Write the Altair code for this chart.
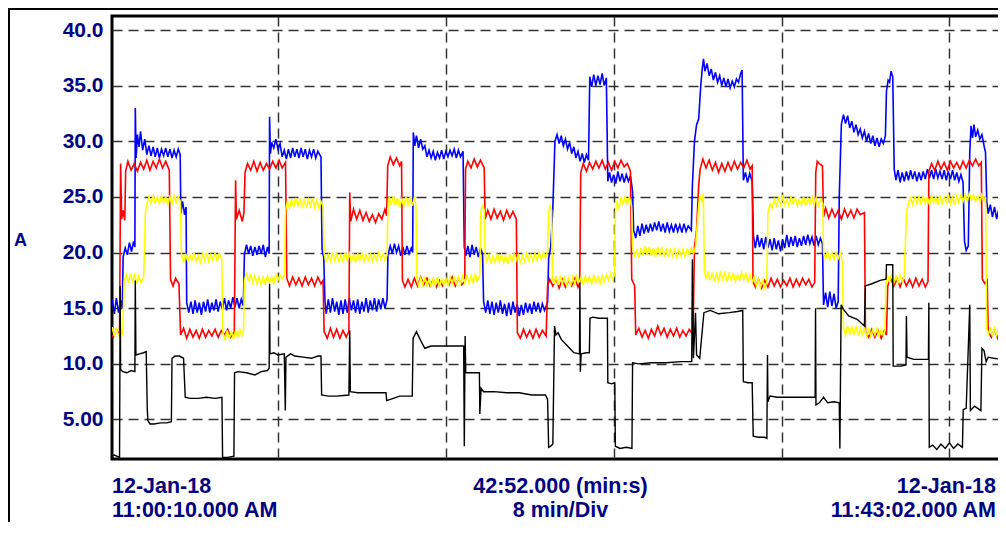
import altair as alt
import pandas as pd

# ---- data: (minutes since 11:00:10, amps) ----
RED = [(0.00,12.8),(0.15,12.4),(0.30,13.1),(0.45,12.5),(0.50,28.0),(0.55,23.0),(0.62,23.8),(0.70,22.9),
(0.74,27.3),(0.85,28.2),(1.00,27.4),(1.15,28.0),(1.30,27.3),(1.45,28.1),(1.60,27.5),(1.75,28.3),(1.90,27.4),
(2.05,28.2),(2.20,27.6),(2.35,28.4),(2.50,27.6),(2.65,28.2),(2.82,27.4),(2.88,17.6),(3.00,17.0),(3.12,17.7),
(3.28,17.2),(3.36,12.6),(3.50,13.2),(3.65,12.3),(3.80,13.1),(3.95,12.4),(4.10,13.0),(4.25,12.3),(4.40,13.1),
(4.55,12.4),(4.70,13.0),(4.85,12.5),(5.00,13.1),(5.15,12.4),(5.30,13.0),(5.45,12.6),(5.60,13.1),(5.75,12.4),
(5.92,12.9),(5.98,26.5),(6.02,23.0),(6.15,23.8),(6.30,22.8),(6.38,23.6),(6.43,27.2),(6.55,28.0),(6.70,27.4),
(6.85,28.2),(7.00,27.3),(7.15,28.1),(7.30,27.4),(7.45,28.0),(7.60,27.5),(7.75,28.2),(7.90,27.6),(8.05,28.3),
(8.20,27.6),(8.36,28.1),(8.42,17.7),(8.55,17.0),(8.70,17.8),(8.85,17.1),(9.00,17.7),(9.15,17.0),(9.30,17.8),
(9.45,17.1),(9.60,17.7),(9.75,17.0),(9.90,17.8),(10.05,17.2),(10.15,17.5),(10.20,12.9),(10.35,12.3),
(10.50,13.2),(10.65,12.4),(10.80,13.1),(10.95,12.3),(11.10,13.0),(11.25,12.4),(11.38,12.9),(11.42,25.4),
(11.47,22.8),(11.60,23.9),(11.75,23.0),(11.90,23.8),(12.05,22.9),(12.20,23.6),(12.35,22.8),(12.50,23.4),
(12.65,22.7),(12.80,23.5),(12.95,23.0),(13.10,23.9),(13.18,23.3),(13.23,27.8),(13.35,28.6),(13.50,27.9),
(13.65,28.5),(13.80,27.8),(13.89,28.2),(13.93,17.5),(14.05,16.9),(14.20,17.6),(14.35,16.9),(14.50,17.7),
(14.65,17.0),(14.80,17.8),(14.95,17.1),(15.10,17.7),(15.25,17.0),(15.40,17.6),(15.55,16.9),(15.70,17.5),
(15.85,17.0),(16.00,17.6),(16.15,17.1),(16.30,17.8),(16.45,17.0),(16.60,17.7),(16.75,17.1),(16.90,17.4),
(16.94,27.5),(17.05,28.2),(17.20,27.6),(17.35,28.4),(17.50,27.7),(17.65,28.3),(17.83,27.6),(17.87,23.0),
(18.00,23.8),(18.15,23.0),(18.30,23.9),(18.45,23.1),(18.60,23.7),(18.75,22.9),(18.90,23.8),(19.05,23.1),
(19.20,23.7),(19.36,23.0),(19.41,12.8),(19.55,12.3),(19.70,13.1),(19.85,12.4),(20.00,13.0),(20.15,12.3),
(20.30,13.1),(20.45,12.4),(20.60,13.0),(20.78,12.5),(20.85,17.0),(20.95,17.6),(21.10,17.0),(21.25,17.7),
(21.40,16.8),(21.55,17.6),(21.70,16.9),(21.85,17.5),(22.00,17.0),(22.15,17.7),(22.30,16.9),(22.38,17.3),
(22.43,27.2),(22.55,28.0),(22.70,27.3),(22.85,28.1),(23.00,27.5),(23.15,28.2),(23.30,27.6),(23.45,28.3),
(23.60,27.5),(23.75,28.1),(23.90,27.4),(24.05,28.2),(24.20,27.6),(24.35,28.3),(24.50,27.7),(24.65,28.0),
(24.80,27.3),(24.86,17.6),(25.00,17.0),(25.05,12.6),(25.20,13.2),(25.35,12.4),(25.50,13.0),(25.65,12.3),
(25.80,13.1),(25.95,12.5),(26.10,13.4),(26.25,12.6),(26.40,13.2),(26.55,12.4),(26.70,13.1),(26.85,12.5),
(27.00,13.2),(27.15,12.4),(27.30,13.0),(27.45,12.5),(27.60,13.1),(27.78,12.6),(27.85,20.5),(27.95,22.0),
(28.05,26.0),(28.12,27.5),(28.25,28.4),(28.40,27.6),(28.55,28.3),(28.70,27.4),(28.85,28.1),(29.00,27.2),
(29.15,28.0),(29.30,27.3),(29.45,28.1),(29.60,27.4),(29.75,28.2),(29.90,27.5),(30.05,28.1),(30.20,27.6),
(30.35,28.3),(30.50,27.5),(30.60,27.8),(30.64,17.4),(30.75,16.9),(30.90,17.6),(31.05,16.8),(31.20,17.5),
(31.35,16.9),(31.50,17.7),(31.65,17.0),(31.80,17.6),(31.95,16.9),(32.10,17.5),(32.25,17.0),(32.40,17.7),
(32.55,16.9),(32.70,17.6),(32.85,17.0),(33.00,17.7),(33.15,17.1),(33.30,17.6),(33.45,16.9),(33.58,17.3),
(33.63,27.2),(33.70,28.2),(33.80,28.0),(33.95,27.8),(34.00,23.2),(34.10,24.0),(34.25,23.1),(34.40,23.9),
(34.55,23.2),(34.70,23.8),(34.85,23.0),(35.00,23.9),(35.15,23.2),(35.30,23.8),(35.45,23.1),(35.60,23.9),
(35.75,23.4),(35.95,23.6),(36.00,12.9),(36.15,12.4),(36.30,13.1),(36.45,12.4),(36.60,13.0),(36.75,12.3),
(36.90,13.0),(37.00,12.6),(37.06,17.0),(37.20,17.7),(37.35,17.0),(37.50,17.6),(37.65,16.9),(37.80,17.7),
(37.95,17.0),(38.10,17.6),(38.25,16.9),(38.40,17.7),(38.55,17.0),(38.70,17.6),(38.85,16.9),(38.98,17.4),
(39.02,27.3),(39.15,28.0),(39.30,27.4),(39.45,28.2),(39.60,27.5),(39.75,28.1),(39.90,27.4),(40.05,28.2),
(40.20,27.6),(40.35,28.1),(40.50,27.5),(40.65,28.2),(40.80,27.6),(40.95,28.3),(41.10,27.8),(41.25,28.4),
(41.40,27.8),(41.52,28.1),(41.57,17.6),(41.70,17.2),(41.80,17.5),(41.85,12.9),(42.00,12.4),(42.15,13.1),
(42.30,12.3),(42.45,13.0),(42.60,12.5),(42.75,13.1),(42.87,12.7)]

BLUE = [(0.00,15.0),(0.10,15.8),(0.20,14.5),(0.30,15.9),(0.40,14.6),(0.50,15.7),(0.58,15.0),(0.62,19.6),
(0.72,20.4),(0.82,19.8),(0.92,20.9),(1.02,20.1),(1.12,21.0),(1.18,20.5),(1.20,33.0),(1.24,28.5),(1.30,30.6),
(1.38,29.5),(1.45,30.9),(1.55,29.2),(1.65,30.2),(1.75,28.8),(1.85,29.6),(1.95,28.7),(2.05,29.5),(2.15,28.6),
(2.25,29.4),(2.35,28.5),(2.45,29.3),(2.55,28.7),(2.65,29.4),(2.75,28.6),(2.85,29.3),(2.95,28.5),(3.05,29.2),
(3.15,28.6),(3.25,29.3),(3.34,28.8),(3.37,23.5),(3.45,24.6),(3.55,23.4),(3.62,24.1),(3.65,15.5),(3.75,14.6),
(3.85,15.6),(3.95,14.5),(4.05,15.7),(4.15,14.6),(4.25,15.5),(4.35,14.4),(4.45,15.6),(4.55,14.7),(4.65,15.8),
(4.75,14.6),(4.85,15.5),(4.95,14.8),(5.05,15.8),(5.15,14.7),(5.25,15.6),(5.35,14.9),(5.45,15.9),(5.55,14.8),
(5.65,15.7),(5.75,15.0),(5.85,16.0),(5.95,15.1),(6.05,15.9),(6.15,15.0),(6.25,15.8),(6.35,15.2),(6.40,19.8),
(6.50,20.7),(6.60,19.9),(6.70,20.6),(6.80,19.7),(6.90,20.5),(7.00,19.8),(7.10,20.6),(7.20,19.9),(7.30,20.7),
(7.40,19.6),(7.50,20.5),(7.58,19.9),(7.60,32.2),(7.64,28.9),(7.70,29.9),(7.80,29.4),(7.90,30.2),(8.00,29.3),
(8.10,29.8),(8.20,28.6),(8.30,29.2),(8.40,28.4),(8.50,29.3),(8.60,28.5),(8.70,29.4),(8.80,28.6),(8.90,29.3),
(9.00,28.5),(9.10,29.4),(9.20,28.6),(9.30,29.3),(9.40,28.4),(9.50,29.2),(9.60,28.6),(9.70,29.3),(9.80,28.5),
(9.90,29.1),(10.05,28.6),(10.10,20.3),(10.18,19.6),(10.24,15.6),(10.30,14.5),(10.40,15.8),(10.50,14.6),
(10.60,15.9),(10.70,14.7),(10.80,15.6),(10.90,14.4),(11.00,15.7),(11.10,14.5),(11.20,15.8),(11.30,14.6),
(11.40,15.9),(11.50,14.8),(11.60,15.7),(11.70,14.6),(11.80,15.8),(11.90,14.5),(12.00,15.6),(12.10,14.7),
(12.20,15.9),(12.30,14.6),(12.40,15.7),(12.50,14.8),(12.60,15.9),(12.70,14.7),(12.80,15.8),(12.90,14.9),
(13.00,15.9),(13.10,15.0),(13.20,15.8),(13.24,19.8),(13.35,20.6),(13.45,19.9),(13.55,20.8),(13.65,20.0),
(13.75,20.6),(13.85,19.7),(13.95,20.5),(14.05,19.8),(14.15,20.6),(14.25,19.9),(14.35,20.4),(14.42,20.0),
(14.45,30.8),(14.52,29.6),(14.60,30.5),(14.70,29.4),(14.80,30.2),(14.90,29.3),(15.00,29.6),(15.10,28.6),
(15.20,29.2),(15.30,28.5),(15.40,29.1),(15.50,28.3),(15.60,29.0),(15.70,28.5),(15.80,29.2),(15.90,28.4),
(16.00,29.1),(16.10,28.6),(16.20,29.2),(16.30,28.7),(16.40,29.3),(16.50,28.5),(16.60,29.2),(16.70,28.6),
(16.82,29.1),(16.88,20.5),(16.95,19.7),(17.05,20.6),(17.15,19.6),(17.25,20.7),(17.35,19.8),(17.45,20.5),
(17.55,19.6),(17.65,20.4),(17.75,19.9),(17.80,15.6),(17.90,14.6),(18.00,15.7),(18.10,14.5),(18.20,15.6),
(18.30,14.4),(18.40,15.5),(18.50,14.6),(18.60,15.7),(18.70,14.5),(18.80,15.4),(18.90,14.3),(19.00,15.5),
(19.10,14.4),(19.20,15.6),(19.30,14.6),(19.40,15.4),(19.50,14.3),(19.60,15.3),(19.70,14.4),(19.80,15.5),
(19.90,14.6),(20.00,15.4),(20.10,14.5),(20.20,15.6),(20.30,14.7),(20.40,15.5),(20.50,14.6),(20.60,15.4),
(20.70,14.8),(20.85,15.5),(20.90,19.5),(21.00,20.5),(21.10,24.0),(21.20,30.0),(21.30,30.6),(21.40,29.8),
(21.50,30.5),(21.60,29.6),(21.70,30.2),(21.80,29.3),(21.90,29.9),(22.00,28.9),(22.10,29.5),(22.20,28.5),
(22.30,29.1),(22.40,28.2),(22.50,28.9),(22.60,28.1),(22.70,28.8),(22.80,28.3),(22.86,35.8),(22.95,34.9),
(23.05,36.0),(23.15,35.0),(23.25,35.9),(23.35,35.1),(23.45,36.1),(23.55,35.0),(23.65,35.7),(23.72,26.4),
(23.80,27.2),(23.90,26.3),(24.00,27.0),(24.10,26.2),(24.20,27.3),(24.30,26.4),(24.40,27.1),(24.50,26.3),
(24.60,27.0),(24.70,26.4),(24.80,26.9),(24.90,25.5),(24.95,22.0),(25.05,21.3),(25.15,22.4),(25.25,21.5),
(25.35,22.6),(25.45,21.7),(25.55,22.5),(25.65,21.8),(25.75,22.6),(25.85,21.9),(25.95,22.7),(26.05,22.0),
(26.15,22.8),(26.25,21.9),(26.35,22.6),(26.45,21.8),(26.55,22.7),(26.65,21.9),(26.75,22.5),(26.85,21.8),
(26.95,22.6),(27.05,21.9),(27.15,22.5),(27.25,21.8),(27.35,22.6),(27.45,21.9),(27.55,22.4),(27.70,22.0),
(27.75,26.0),(27.85,30.0),(27.95,31.5),(28.05,32.0),(28.15,35.0),(28.22,36.5),(28.28,37.4),(28.35,36.3),
(28.45,37.0),(28.55,35.9),(28.65,36.5),(28.75,35.5),(28.85,36.2),(28.95,35.3),(29.05,35.9),(29.15,35.0),
(29.25,35.7),(29.35,34.9),(29.45,35.6),(29.55,34.8),(29.65,35.4),(29.75,34.9),(29.85,35.6),(29.95,35.3),
(30.05,36.1),(30.12,36.4),(30.18,26.5),(30.28,27.2),(30.38,26.3),(30.48,27.1),(30.60,26.4),(30.66,21.5),
(30.75,20.4),(30.85,21.6),(30.95,20.5),(31.05,21.3),(31.15,20.3),(31.25,21.4),(31.35,20.4),(31.45,21.2),
(31.55,20.2),(31.65,21.3),(31.75,20.3),(31.85,21.1),(31.95,20.1),(32.05,21.2),(32.15,20.4),(32.25,21.6),
(32.35,20.5),(32.45,21.4),(32.55,20.6),(32.65,21.5),(32.75,20.5),(32.85,21.3),(32.95,20.6),(33.05,21.5),
(33.15,20.7),(33.25,21.6),(33.35,20.8),(33.45,21.4),(33.55,20.6),(33.65,21.5),(33.75,20.7),(33.85,21.3),
(33.95,20.8),(34.00,15.3),(34.10,16.4),(34.20,15.1),(34.30,16.5),(34.40,15.2),(34.50,16.3),(34.60,15.0),
(34.70,15.6),(34.75,25.0),(34.85,31.5),(34.95,32.4),(35.05,31.6),(35.15,32.3),(35.25,31.2),(35.35,31.8),
(35.45,30.8),(35.55,31.5),(35.65,30.6),(35.75,31.1),(35.85,30.3),(35.95,30.9),(36.05,30.0),(36.15,30.7),
(36.25,29.8),(36.35,30.5),(36.45,29.6),(36.55,30.3),(36.65,29.5),(36.75,30.2),(36.85,29.8),(36.95,30.5),
(37.00,34.5),(37.08,35.5),(37.15,35.3),(37.22,36.3),(37.30,35.8),(37.37,27.5),(37.45,26.5),(37.55,27.4),
(37.65,26.3),(37.75,27.2),(37.85,26.4),(37.95,27.3),(38.05,26.5),(38.15,27.4),(38.25,26.6),(38.35,27.3),
(38.45,26.4),(38.55,27.2),(38.65,26.5),(38.75,27.3),(38.85,26.6),(38.95,27.5),(39.05,26.7),(39.15,27.4),
(39.25,26.6),(39.35,27.5),(39.45,26.7),(39.55,27.3),(39.65,26.6),(39.75,27.4),(39.85,26.5),(39.95,27.3),
(40.05,26.6),(40.15,27.4),(40.25,26.5),(40.35,27.2),(40.45,26.4),(40.55,27.0),(40.65,26.3),(40.72,21.0),
(40.80,20.2),(40.90,20.6),(40.97,29.0),(41.03,31.4),(41.10,30.3),(41.17,31.5),(41.25,30.4),(41.35,31.0),
(41.45,30.2),(41.55,30.6),(41.65,29.6),(41.72,29.0),(41.78,24.6),(41.85,23.5),(41.95,24.3),(42.05,23.2),
(42.15,24.1),(42.25,23.0),(42.35,23.9),(42.45,23.1),(42.55,23.8),(42.65,22.9),(42.75,23.6),(42.87,23.1)]

YELLOW = [(0.00,12.6),(0.10,13.3),(0.20,12.5),(0.30,13.2),(0.40,12.4),(0.50,13.1),(0.60,12.6),(0.67,17.4),
(0.77,18.0),(0.87,17.3),(0.97,18.1),(1.07,17.4),(1.17,18.0),(1.27,17.2),(1.37,17.9),(1.47,17.3),(1.60,17.8),
(1.68,23.5),(1.75,24.4),(1.85,25.0),(1.95,24.4),(2.05,25.1),(2.15,24.5),(2.25,25.0),(2.35,24.4),(2.45,25.1),
(2.55,24.5),(2.65,25.0),(2.75,24.3),(2.85,25.0),(2.95,24.4),(3.05,25.1),(3.15,24.5),(3.25,25.0),(3.35,24.6),
(3.40,19.8),(3.50,19.1),(3.60,19.9),(3.70,19.2),(3.80,19.8),(3.90,19.3),(4.00,20.0),(4.10,19.2),(4.20,19.7),
(4.30,19.1),(4.40,19.9),(4.50,19.3),(4.60,20.0),(4.70,19.2),(4.80,19.8),(4.90,19.3),(5.00,20.0),(5.10,19.2),
(5.20,19.9),(5.32,19.4),(5.38,12.8),(5.48,12.2),(5.58,13.0),(5.68,12.3),(5.78,12.9),(5.88,12.2),(5.98,13.0),
(6.08,12.4),(6.18,13.1),(6.28,12.5),(6.36,13.0),(6.40,17.5),(6.50,18.2),(6.60,17.4),(6.70,18.1),(6.80,17.3),
(6.90,17.9),(7.00,17.2),(7.10,17.8),(7.20,17.1),(7.30,17.8),(7.40,17.2),(7.50,17.9),(7.60,17.3),(7.70,17.8),
(7.80,17.2),(7.90,18.0),(8.00,17.5),(8.10,18.0),(8.20,17.6),(8.32,18.1),(8.36,23.8),(8.45,24.6),(8.55,24.0),
(8.65,24.8),(8.75,24.1),(8.85,24.9),(8.95,24.2),(9.05,24.8),(9.15,24.1),(9.25,24.7),(9.35,24.0),(9.45,24.8),
(9.55,24.2),(9.65,24.9),(9.75,24.1),(9.85,24.7),(9.95,24.0),(10.05,24.6),(10.15,24.2),(10.20,19.9),
(10.30,19.1),(10.40,19.8),(10.50,19.2),(10.60,20.0),(10.70,19.3),(10.80,19.9),(10.90,19.1),(11.00,19.8),
(11.10,19.2),(11.20,20.0),(11.30,19.3),(11.40,19.9),(11.50,19.2),(11.60,19.8),(11.70,19.1),(11.80,19.9),
(11.90,19.3),(12.00,20.0),(12.10,19.2),(12.20,19.8),(12.30,19.3),(12.40,19.9),(12.50,19.2),(12.60,19.8),
(12.70,19.3),(12.80,20.0),(12.90,19.4),(13.00,19.9),(13.10,19.3),(13.20,19.8),(13.24,24.0),(13.30,25.0),
(13.40,24.3),(13.50,25.1),(13.60,24.2),(13.70,24.9),(13.80,24.1),(13.90,24.8),(14.00,24.2),(14.10,25.0),
(14.20,24.3),(14.30,25.0),(14.40,24.2),(14.50,24.9),(14.57,24.4),(14.62,17.6),(14.70,17.0),(14.80,17.7),
(14.90,17.1),(15.00,17.8),(15.10,17.0),(15.20,17.6),(15.30,16.9),(15.40,17.7),(15.50,17.1),(15.60,17.8),
(15.70,17.0),(15.80,17.6),(15.90,17.1),(16.00,17.7),(16.10,17.0),(16.20,17.8),(16.30,17.2),(16.40,17.9),
(16.50,17.1),(16.60,17.8),(16.70,17.2),(16.80,17.9),(16.90,17.3),(17.00,18.0),(17.10,17.2),(17.20,17.9),
(17.30,17.3),(17.40,18.1),(17.50,17.4),(17.62,18.0),(17.67,23.6),(17.75,24.3),(17.83,23.8),(17.87,19.9),
(17.95,19.2),(18.05,19.8),(18.15,19.0),(18.25,19.7),(18.35,19.1),(18.45,19.9),(18.55,19.2),(18.65,19.8),
(18.75,19.1),(18.85,19.7),(18.95,19.0),(19.05,19.8),(19.15,19.2),(19.25,19.9),(19.35,19.3),(19.45,19.8),
(19.55,19.1),(19.65,19.7),(19.75,19.2),(19.85,19.9),(19.95,19.3),(20.05,19.8),(20.15,19.2),(20.25,19.9),
(20.35,19.3),(20.45,20.0),(20.55,19.4),(20.65,20.0),(20.75,19.5),(20.85,20.2),(20.90,23.5),(20.97,24.3),
(21.04,23.8),(21.08,17.8),(21.15,17.2),(21.25,17.9),(21.35,17.1),(21.45,17.8),(21.55,17.2),(21.65,17.9),
(21.75,17.1),(21.85,17.7),(21.95,17.0),(22.05,17.8),(22.15,17.2),(22.25,17.9),(22.35,17.3),(22.45,17.8),
(22.55,17.1),(22.65,17.9),(22.75,17.3),(22.85,17.8),(22.95,17.2),(23.05,17.9),(23.15,17.3),(23.25,17.8),
(23.35,17.2),(23.45,17.9),(23.55,17.4),(23.65,18.0),(23.75,17.5),(23.85,18.1),(23.95,17.6),(24.04,18.0),
(24.08,23.6),(24.15,24.5),(24.25,24.0),(24.35,25.0),(24.45,24.3),(24.55,25.1),(24.65,24.4),(24.75,25.0),
(24.85,24.2),(24.90,20.5),(25.00,19.6),(25.10,20.3),(25.20,19.5),(25.30,20.4),(25.40,19.7),(25.50,20.6),
(25.60,19.8),(25.70,20.5),(25.80,19.7),(25.90,20.4),(26.00,19.6),(26.10,20.5),(26.20,19.8),(26.30,20.4),
(26.40,19.7),(26.50,20.3),(26.60,19.6),(26.70,20.4),(26.80,19.7),(26.90,20.3),(27.00,19.6),(27.10,20.2),
(27.20,19.7),(27.30,20.3),(27.40,19.6),(27.50,20.3),(27.60,19.8),(27.70,20.4),(27.80,19.9),(27.90,20.5),
(28.00,23.0),(28.10,25.1),(28.20,24.6),(28.27,25.3),(28.32,18.5),(28.40,17.6),(28.50,18.3),(28.60,17.5),
(28.70,18.2),(28.80,17.4),(28.90,18.1),(29.00,17.5),(29.10,18.3),(29.20,17.6),(29.30,18.2),(29.40,17.4),
(29.50,18.1),(29.60,17.5),(29.70,18.2),(29.80,17.4),(29.90,18.0),(30.00,17.5),(30.10,18.2),(30.20,17.6),
(30.30,18.1),(30.40,17.4),(30.50,18.0),(30.60,17.3),(30.70,17.8),(30.80,17.0),(30.90,17.6),(31.00,16.9),
(31.10,17.5),(31.20,16.8),(31.30,17.4),(31.35,23.6),(31.45,24.4),(31.55,24.0),(31.65,24.8),(31.75,24.2),
(31.85,24.9),(31.95,24.3),(32.05,25.0),(32.15,24.3),(32.25,24.8),(32.35,24.2),(32.45,25.0),(32.55,24.4),
(32.65,24.9),(32.75,24.2),(32.85,24.8),(32.95,24.3),(33.05,25.0),(33.15,24.2),(33.25,24.9),(33.35,24.4),
(33.45,25.0),(33.55,24.3),(33.65,24.9),(33.75,24.2),(33.85,24.8),(33.97,24.4),(34.00,20.0),(34.10,19.4),
(34.20,20.1),(34.30,19.3),(34.40,20.0),(34.50,19.4),(34.60,20.0),(34.70,19.5),(34.82,20.1),(34.90,19.0),
(34.95,13.2),(35.05,12.6),(35.15,13.4),(35.25,12.7),(35.35,13.3),(35.45,12.6),(35.55,13.4),(35.65,12.5),
(35.75,13.2),(35.85,12.6),(35.95,13.3),(36.05,12.4),(36.15,13.2),(36.25,12.5),(36.35,13.1),(36.45,12.6),
(36.55,13.2),(36.65,12.5),(36.75,13.1),(36.85,12.6),(36.93,13.0),(36.97,17.2),(37.05,17.9),(37.15,17.4),
(37.25,18.1),(37.35,17.3),(37.45,17.9),(37.55,17.3),(37.65,18.0),(37.75,17.4),(37.85,17.9),(37.95,23.5),
(38.05,24.5),(38.15,24.9),(38.25,24.3),(38.35,25.1),(38.45,24.4),(38.55,25.0),(38.65,24.3),(38.75,25.1),
(38.85,24.4),(38.95,25.0),(39.05,24.3),(39.15,25.1),(39.25,24.5),(39.35,25.0),(39.45,24.3),(39.55,25.1),
(39.65,24.4),(39.75,25.0),(39.85,24.5),(39.95,25.2),(40.05,24.4),(40.15,25.0),(40.25,24.3),(40.35,25.1),
(40.45,24.5),(40.55,25.3),(40.65,24.6),(40.75,25.2),(40.85,24.6),(40.95,25.3),(41.05,24.7),(41.15,25.2),
(41.25,24.6),(41.35,25.1),(41.45,24.5),(41.55,25.2),(41.65,24.7),(41.72,25.0),(41.78,13.2),(41.85,12.6),
(41.95,13.3),(42.05,12.5),(42.15,13.2),(42.25,12.6),(42.35,13.3),(42.45,12.7),(42.55,13.2),(42.65,12.6),
(42.75,13.1),(42.87,12.8)]

BLACK = [(0.00,1.6),(0.20,1.8),(0.45,1.6),(0.48,17.0),(0.50,9.5),(0.60,9.3),(0.80,9.2),(1.00,9.4),(1.18,9.3),
(1.20,17.5),(1.23,10.8),(1.40,10.9),(1.60,11.0),(1.72,11.1),(1.77,6.0),(1.80,4.9),(1.90,4.6),(2.10,4.6),
(2.40,4.7),(2.70,4.7),(2.92,4.8),(2.95,10.5),(3.10,10.7),(3.30,10.7),(3.50,10.5),(3.58,7.0),(3.80,6.9),
(4.20,6.9),(4.60,7.0),(5.00,6.9),(5.33,7.0),(5.36,1.6),(5.60,1.6),(5.90,1.7),(5.93,9.2),(6.10,9.3),(6.50,9.2),
(6.90,9.0),(7.20,9.3),(7.50,9.4),(7.58,9.6),(7.60,17.2),(7.62,10.9),(7.80,11.0),(8.00,10.8),(8.30,10.9),
(8.35,5.8),(8.38,10.6),(8.60,10.9),(8.80,10.7),(9.20,10.6),(9.60,10.5),(9.90,10.7),(10.05,10.7),(10.08,7.2),
(10.40,7.1),(10.80,7.1),(11.38,7.2),(11.42,13.0),(11.45,7.5),(11.80,7.4),(12.30,7.4),(12.80,7.4),(13.15,7.4),
(13.18,6.7),(13.50,6.9),(13.80,7.1),(14.20,7.1),(14.40,7.1),(14.44,12.3),(14.60,12.9),(14.80,12.1),
(15.00,11.4),(15.30,11.6),(15.80,11.6),(16.40,11.6),(16.85,11.6),(16.88,2.6),(16.92,12.5),(16.95,9.2),
(17.30,9.2),(17.60,9.2),(17.62,5.5),(17.68,7.8),(17.80,7.5),(18.30,7.5),(18.90,7.4),(19.50,7.4),(20.10,7.2),
(20.75,7.2),(20.85,6.8),(20.90,2.5),(21.00,2.6),(21.10,2.8),(21.18,13.4),(21.25,12.6),(21.35,12.8),
(21.50,12.2),(21.80,11.6),(22.10,11.0),(22.37,10.9),(22.39,17.3),(22.41,9.3),(22.45,10.9),(22.70,11.0),
(22.84,11.0),(22.87,14.1),(23.00,14.2),(23.30,14.1),(23.70,14.1),(23.72,8.3),(23.90,8.2),(24.05,8.3),
(24.08,2.6),(24.30,2.4),(24.60,2.5),(24.87,2.4),(24.90,10.1),(25.20,10.0),(25.80,10.1),(26.50,10.1),
(27.20,10.2),(27.72,10.2),(27.75,19.4),(27.80,10.5),(27.90,14.6),(27.95,10.8),(28.10,10.5),(28.30,14.6),
(28.60,14.8),(29.00,14.5),(29.50,14.6),(29.90,14.7),(30.15,14.8),(30.18,8.4),(30.40,8.3),(30.60,8.3),
(30.65,3.5),(30.90,3.4),(31.20,3.4),(31.30,3.3),(31.33,10.8),(31.35,6.6),(31.45,7.1),(31.80,7.0),(32.30,7.0),
(32.90,7.0),(33.60,7.0),(33.62,15.0),(33.64,6.3),(33.80,6.5),(34.00,7.0),(34.20,6.5),(34.50,6.6),(34.75,6.5),
(34.78,2.4),(34.84,15.3),(34.95,14.9),(35.20,14.3),(35.60,14.0),(35.95,13.4),(35.99,17.0),(36.30,17.2),
(36.70,17.5),(36.98,17.6),(37.00,18.9),(37.30,18.9),(37.32,9.8),(37.70,9.8),(37.93,9.9),(37.95,14.3),
(37.98,10.6),(38.30,10.4),(38.70,10.4),(39.00,10.4),(39.02,15.5),(39.04,2.5),(39.20,2.7),(39.40,2.3),
(39.60,2.8),(39.80,2.4),(40.00,2.9),(40.20,2.4),(40.40,2.8),(40.62,2.5),(40.66,5.9),(40.80,6.0),(40.97,15.3),
(41.00,5.8),(41.20,6.2),(41.50,5.8),(41.55,11.4),(41.65,11.2),(41.75,10.2),(41.85,10.6),(42.10,10.5),
(42.50,10.4),(42.87,10.5)]

Y_TICKS = [5, 10, 15, 20, 25, 30, 35, 40]
X_GRID_MIN = [8, 16, 24, 32, 40]
X_DOMAIN = [0.09, 42.84]
Y_DOMAIN = [1.45, 41.26]
START_LABEL = ["12-Jan-18", "11:00:10.000 AM"]
MID_LABEL = ["42:52.000 (min:s)", "8 min/Div"]
END_LABEL = ["12-Jan-18", "11:43:02.000 AM"]
UNIT = "A"

NAVY = "#000080"
FONT = "Liberation Sans"
W, H = 897, 443
PAD = {"left": 104, "top": 8, "right": -11, "bottom": 63}


def to_frame(points):
    return pd.DataFrame({"t": [p[0] for p in points], "v": [p[1] for p in points]})


xs = alt.Scale(domain=X_DOMAIN, nice=False, zero=False)
ys = alt.Scale(domain=Y_DOMAIN, nice=False, zero=False)

x_axis = alt.Axis(values=X_GRID_MIN, labels=False, ticks=False, domain=False, grid=True,
                  gridColor="#333333", gridDash=[10, 6], gridWidth=1.5)
y_axis = alt.Axis(values=Y_TICKS,
                  labelExpr="datum.value < 10 ? format(datum.value, '.2f') : format(datum.value, '.1f')",
                  labelFont=FONT, labelFontWeight="bold", labelFontSize=21, labelColor=NAVY,
                  labelPadding=9, ticks=False, tickSize=0, domain=False, grid=True,
                  gridColor="#333333", gridDash=[10, 6], gridWidth=1.5,
                  titleAngle=0, titleX=-92, titleY=224, titleAlign="center", titleBaseline="middle",
                  titleFont=FONT, titleFontWeight="bold", titleFontSize=18, titleColor=NAVY)


def series(points, color, width=1.6):
    return alt.Chart(to_frame(points)).mark_line(color=color, strokeWidth=width, clip=True).encode(
        x=alt.X("t:Q", scale=xs, axis=x_axis, title=""),
        y=alt.Y("v:Q", scale=ys, axis=y_axis, title=UNIT),
    )


one = pd.DataFrame({"k": [0]})


def text(txt, x, y, align):
    return alt.Chart(one).mark_text(text=txt, align=align, baseline="alphabetic", font=FONT,
                                    fontWeight="bold", fontSize=21.5, color=NAVY).encode(
        x=alt.value(x), y=alt.value(y))


frame_left = alt.Chart(one).mark_rule(color="black", strokeWidth=2).encode(
    x=alt.value(-103), y=alt.value(-8), y2=alt.value(510))
frame_top = alt.Chart(one).mark_rule(color="black", strokeWidth=2).encode(
    x=alt.value(-104), x2=alt.value(900), y=alt.value(-7))

RIGHT_TEXT_X = 884  # keep the end-time label readable inside the visible page

layers = [
    series(BLUE, "#0000ff"),
    series(RED, "#ff0000"),
    series(YELLOW, "#ffff00"),
    series(BLACK, "#000000", 1.4),
    text(START_LABEL[0], 0, 477, "left"),
    text(START_LABEL[1], 0, 501, "left"),
    text(MID_LABEL[0], W / 2, 477, "center"),
    text(MID_LABEL[1], W / 2, 501, "center"),
    text(END_LABEL[0], RIGHT_TEXT_X, 477, "right"),
    text(END_LABEL[1], RIGHT_TEXT_X, 501, "right"),
    frame_left,
    frame_top,
]

chart = alt.layer(*layers).properties(
    width=W, height=H,
    autosize=alt.AutoSizeParams(type="none"),
    padding=PAD,
    background="white",
).configure_view(stroke="black", strokeWidth=3)

chart.save("out.html", embed_options={"renderer": "svg", "actions": False})
